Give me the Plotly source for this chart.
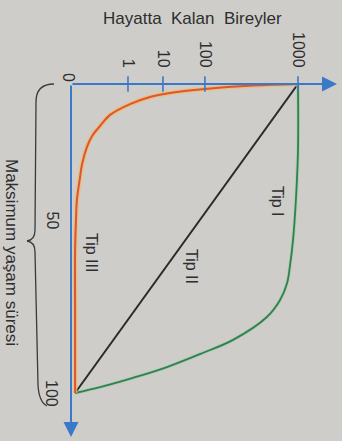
import plotly.graph_objects as go

# ---- data (x = position on the survivors axis, 0..1 where 1 = 1000; y = % of max lifespan) ----
tick_labels = ["1", "10", "100", "1000"]
tick_pos = [0.251, 0.405, 0.590, 1.0]

tip1_x = [1.0, 1.0, 0.991, 0.978, 0.965, 0.952, 0.921, 0.863, 0.714, 0.568, 0.423, 0.273, 0.128, 0.018]
tip1_y = [0, 21.4, 37.2, 50.5, 58.6, 64.4, 69.9, 75.4, 82.8, 87.4, 91.6, 95.1, 98.1, 100]

tip2_x = [1.0, 0.018]
tip2_y = [0, 100]

tip3_x = [1.0, 0.802, 0.590, 0.436, 0.348, 0.260, 0.172, 0.128, 0.093, 0.070, 0.048, 0.040, 0.026, 0.022, 0.018, 0.018, 0.018]
tip3_y = [0, 0.5, 1.6, 2.9, 4.2, 6.5, 10.0, 13.6, 16.8, 20.4, 26.2, 30.1, 37.5, 44.0, 53.7, 76.0, 100]

age_labels = ["50", "100"]
age_vals = [50, 100]

# ---- layout geometry ----
W, H = 342, 441
L, T, R, B = 71, 84, 5, 4
PW, PH = W - L - R, H - T - B
X_MAX = PW / 227.0
Y_MAX = PH * 100.0 / 309.0

def px(x, y):
    return (x - L) / PW, 1 - (y - T) / PH

BG = "#cfcdca"
AXC = "#3a78c8"
TXT = "#2e2e2e"
FONT = "Liberation Sans, Arial, sans-serif"

fig = go.Figure()

fig.add_trace(go.Scatter(x=tip2_x, y=tip2_y, mode="lines",
                         line=dict(color="#2a2a2a", width=2), hoverinfo="skip", showlegend=False))
fig.add_trace(go.Scatter(x=tip1_x, y=tip1_y, mode="lines", line_shape="spline",
                         line=dict(color="#9fcf8f", width=3.5), opacity=0.6, hoverinfo="skip", showlegend=False))
fig.add_trace(go.Scatter(x=tip1_x, y=tip1_y, mode="lines", line_shape="spline",
                         line=dict(color="#2f7f5a", width=1.8), hoverinfo="skip", showlegend=False))
fig.add_trace(go.Scatter(x=tip3_x, y=tip3_y, mode="lines", line_shape="spline",
                         line=dict(color="#f0bd6a", width=4.5), opacity=0.8, hoverinfo="skip", showlegend=False))
fig.add_trace(go.Scatter(x=tip3_x, y=tip3_y, mode="lines", line_shape="spline",
                         line=dict(color="#dd5532", width=2), hoverinfo="skip", showlegend=False))

# tick marks crossing the survivors axis
fig.add_trace(go.Scatter(x=tick_pos, y=[0] * len(tick_pos), mode="markers", cliponaxis=False,
                         marker=dict(symbol="line-ns", size=11, line=dict(color=AXC, width=1.6)),
                         hoverinfo="skip", showlegend=False))

annotations = []
# axes as arrows
annotations.append(dict(x=X_MAX, y=0, ax=0, ay=0, xref="x", yref="y", axref="x", ayref="y",
                        showarrow=True, arrowhead=2, arrowsize=1.5, arrowwidth=2, arrowcolor=AXC,
                        standoff=0, text=""))
annotations.append(dict(x=0, y=Y_MAX, ax=0, ay=0, xref="x", yref="y", axref="x", ayref="y",
                        showarrow=True, arrowhead=2, arrowsize=1.5, arrowwidth=2, arrowcolor=AXC,
                        standoff=0, text=""))

def ptext(text, x, y, size, angle=0):
    xp, yp = px(x, y)
    annotations.append(dict(x=xp, y=yp, xref="paper", yref="paper", text=text, showarrow=False,
                            textangle=angle, xanchor="center", yanchor="middle",
                            font=dict(family=FONT, size=size, color=TXT)))

ptext("Hayatta  Kalan  Bireyler", 192, 19, 17)
ptext("Maksimum yaşam süresi", 12, 252, 17, 90)
ptext("0", 69, 77, 16, 90)
ptext("Tip I", 278, 201, 16, 90)
ptext("Tip II", 192, 266, 16, 90)
ptext("Tip III", 92, 252, 16, 90)

# lifespan labels
for lab, v, dy in zip(age_labels, age_vals, [18, 0]):
    annotations.append(dict(x=0, y=v, xref="x", yref="y", text=lab, showarrow=False, textangle=90,
                            xanchor="center", yanchor="middle", xshift=-19, yshift=dy,
                            font=dict(family=FONT, size=16, color=TXT)))

# curly brace for max lifespan
pts = [(54, 84), (36, 84), (36, 102), (35, 230), (35, 240), (27, 241), (35, 242), (35, 252),
       (38, 385), (39, 402), (47, 406)]
p = [px(a, b) for a, b in pts]
path = ("M {0[0]} {0[1]} Q {1[0]} {1[1]} {2[0]} {2[1]} L {3[0]} {3[1]} Q {4[0]} {4[1]} {5[0]} {5[1]} "
        "Q {6[0]} {6[1]} {7[0]} {7[1]} L {8[0]} {8[1]} Q {9[0]} {9[1]} {10[0]} {10[1]}").format(*p)
shapes = [dict(type="path", path=path, xref="paper", yref="paper",
               line=dict(color="#3a3a3a", width=1.3))]

fig.update_layout(
    width=W, height=H,
    margin=dict(l=L, r=R, t=T, b=B),
    paper_bgcolor=BG, plot_bgcolor=BG,
    showlegend=False,
    annotations=annotations,
    shapes=shapes,
    xaxis=dict(range=[0, X_MAX], side="top", tickvals=tick_pos, ticktext=tick_labels,
               tickangle=90, ticks="", ticklabelstandoff=13, showgrid=False, zeroline=False,
               showline=False, tickfont=dict(family=FONT, size=16, color=TXT), fixedrange=True),
    yaxis=dict(range=[Y_MAX, 0], showticklabels=False, ticks="", showgrid=False, zeroline=False,
               showline=False, fixedrange=True),
)

fig.write_html("out.html", config={"displayModeBar": False},
               post_script="document.body.style.margin='0';document.body.style.overflow='hidden';")
